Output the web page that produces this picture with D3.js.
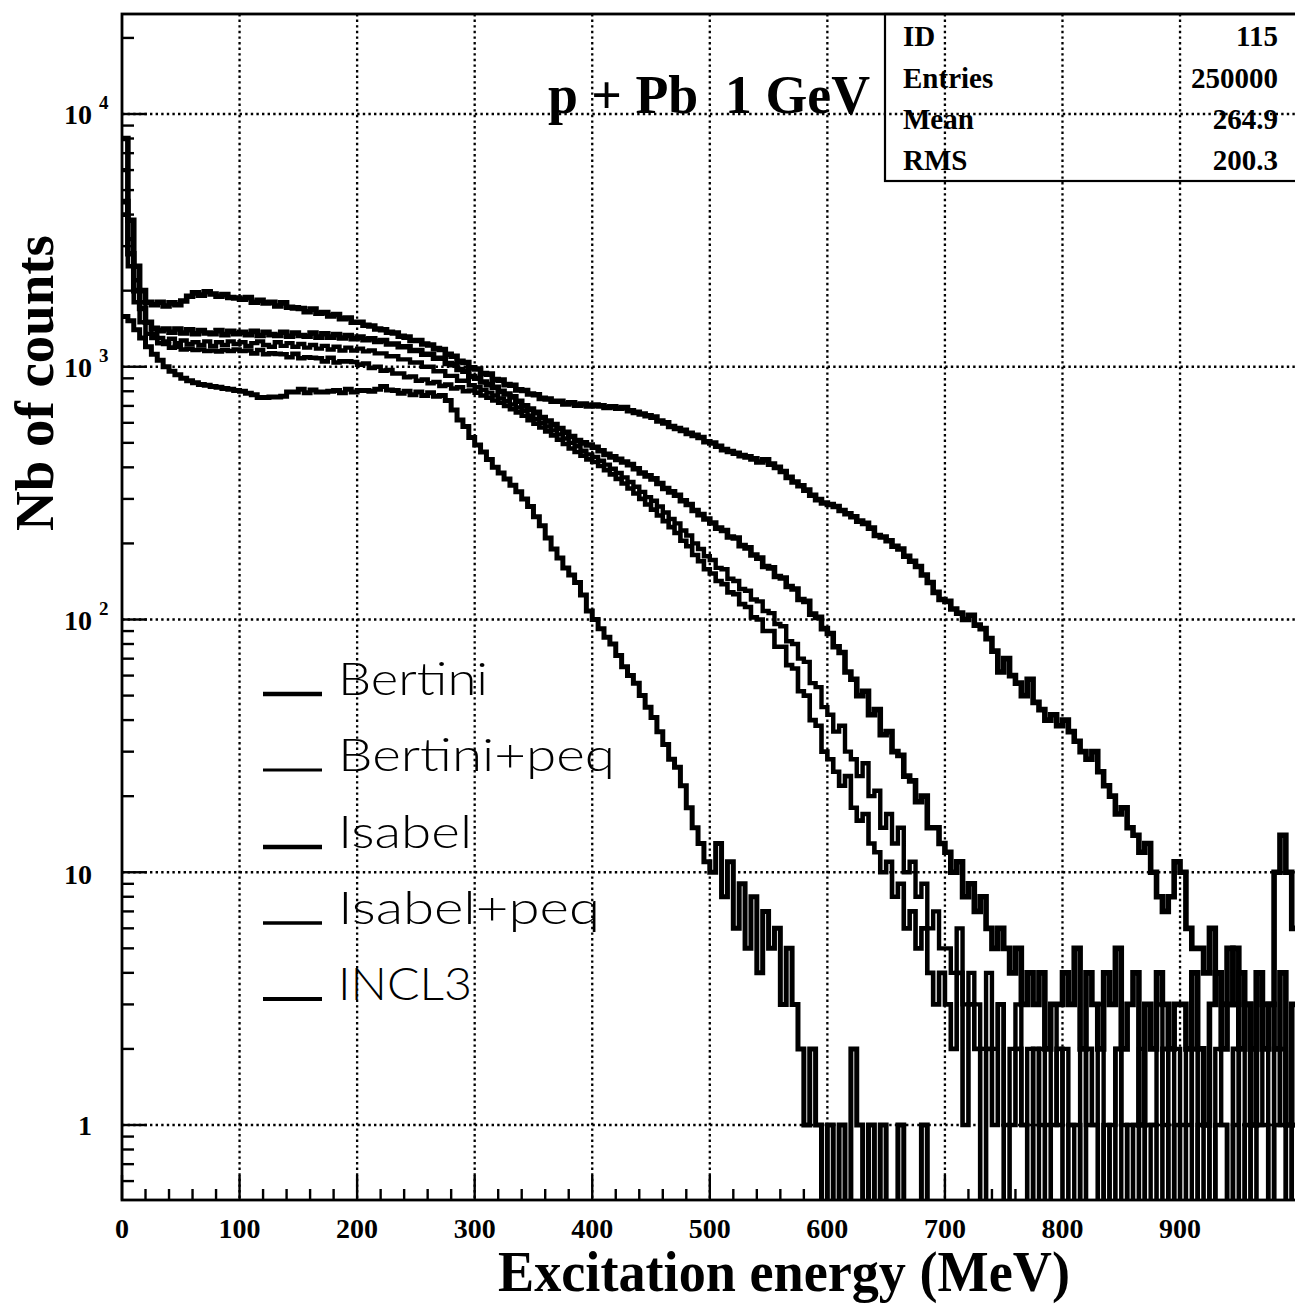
<!DOCTYPE html>
<html><head><meta charset="utf-8">
<script src="https://cdn.jsdelivr.net/npm/d3@7"></script>
<style>
html,body{margin:0;padding:0;background:#fff;}
svg{display:block;background:#fff;}
</style></head><body>
<svg id="chart" width="1295" height="1306"></svg>
<script>
// ---------------- DATA ----------------
const binWidth = 5; // MeV per histogram bin
const xDomain = [0, 1000];
const yDomain = [0.505, 24870];
const xTickLabels = [0, 100, 200, 300, 400, 500, 600, 700, 800, 900];
const yDecades = [0, 1, 2, 3, 4];
const seriesNames = ["Bertini", "Bertini+peq", "Isabel", "Isabel+peq", "INCL3"];
const titleText = "p + Pb  1 GeV";
const xTitle = "Excitation energy (MeV)";
const yTitle = "Nb of counts";
const statLabels = ["ID", "Entries", "Mean", "RMS"];
const statValues = ["115", "250000", "264.9", "200.3"];

const bertini = [
 8000,3800,2500,2000,1800,1760,1800,1740,1790,1760,1820,1900,1960,1920,1980,1940,1900,1930,1880,1870,
 1850,1880,1800,1830,1790,1800,1740,1790,1720,1710,1700,1650,1690,1630,1640,1590,1610,1550,1560,1500,
 1500,1460,1450,1410,1400,1370,1360,1320,1310,1270,1270,1230,1220,1180,1170,1120,1100,1050,1040,990,
 980,940,935,890,885,850,845,810,805,780,775,750,745,730,730,712,720,705,712,700,
 705,700,690,695,685,690,670,660,650,640,632,610,600,580,570,560,545,535,525,505,
 499,485,470,462,455,445,440,432,420,428,412,400,385,365,350,338,325,310,298,289,
 285,280,270,262,255,245,240,230,215,212,205,195,190,178,170,162,150,140,128,120,
 118,110,106,100,104,95,92,84,75,62,70,60,56,50,58,47,44,40,42,38,
 40,36,33,30,28,30,25,22,20,17,18,15,14,12,13,10,8,7,8,11,
 10,6,5,5,4,6,4,3,5,3,4,3,2,4,3,3,10,14,10,6
];
const bertiniPeq = [
 6000,3200,2200,1800,1500,1350,1300,1260,1290,1240,1270,1230,1250,1220,1260,1210,1250,1220,1260,1230,
 1250,1210,1240,1260,1220,1200,1250,1210,1240,1200,1230,1190,1220,1180,1210,1170,1200,1160,1190,1160,
 1180,1150,1160,1130,1130,1100,1100,1070,1070,1040,1040,1000,1000,960,960,920,920,880,880,845,
 830,810,790,770,750,730,710,690,670,640,620,600,580,560,540,520,500,485,465,450,
 440,425,410,395,380,365,350,335,320,305,295,280,265,250,240,225,215,200,190,178,
 172,160,158,145,142,132,130,120,118,108,106,96,94,82,80,70,68,56,54,45,
 42,36,38,30,28,24,27,20,21,15,17,13,15,10,11,8,9,6,7,5,
 5,4,6,3,4,3,2,4,2,3,1,2,3,1,2,0,2,1,3,1,
 2,1,0,2,1,1,3,0,1,2,0,1,1,2,0,1,3,1,0,2,
 1,2,0,1,1,0,2,1,0,1,2,0,1,1,3,0,1,2,0,1
];
const isabel = [
 4500,2800,2000,1700,1500,1420,1390,1410,1370,1410,1360,1400,1350,1390,1360,1350,1390,1340,1380,1350,
 1370,1340,1380,1330,1370,1340,1330,1370,1320,1360,1330,1320,1360,1310,1350,1310,1340,1300,1330,1290,
 1310,1280,1290,1260,1270,1230,1230,1200,1200,1160,1160,1120,1120,1080,1080,1030,1020,975,960,915,
 900,870,850,830,800,780,760,730,700,680,660,630,610,590,570,550,530,510,500,490,
 480,465,450,440,430,420,410,395,380,370,360,345,330,320,310,295,285,270,260,250,
 241,230,225,212,210,196,192,180,175,162,160,148,146,135,132,120,118,105,102,92,
 88,78,74,62,58,50,52,42,44,35,36,30,29,24,23,19,20,15,15,13,
 12,10,11,8,9,7,8,6,5,6,5,4,5,3,4,3,4,2,3,3,
 4,3,5,2,4,3,2,4,3,5,2,3,4,1,3,2,4,3,2,3,
 3,2,4,2,1,3,4,2,3,5,2,3,1,4,2,3,2,4,1,3
];
const isabelPeq = [
 4000,2500,1800,1500,1350,1300,1240,1230,1190,1200,1170,1180,1165,1170,1155,1160,1150,1165,1155,1170,
 1155,1160,1130,1165,1120,1130,1125,1120,1090,1125,1080,1090,1085,1080,1050,1085,1040,1050,1050,1045,
 1020,1030,990,1000,965,970,940,940,910,915,880,890,860,870,840,850,820,830,800,805,
 790,770,755,735,720,700,680,660,640,615,595,575,555,535,515,495,475,460,445,430,
 420,405,390,375,360,345,330,315,300,285,272,258,245,232,220,205,195,180,170,158,
 152,142,138,128,126,115,112,102,100,90,90,78,78,66,64,52,50,40,38,30,
 28,25,22,24,18,16,17,13,12,10,11,8,9,6,7,5,6,4,3,4,
 3,2,4,1,3,2,0,2,1,3,0,1,2,1,0,2,1,0,1,2,
 0,1,1,0,2,1,0,1,0,2,1,0,1,0,1,1,0,2,0,1,
 0,1,2,0,1,0,1,1,0,2,0,1,0,1,1,0,2,1,0,1
];
const incl3 = [
 1580,1520,1400,1300,1200,1120,1060,1000,960,930,900,880,865,850,845,835,830,820,815,805,
 800,785,775,755,755,760,760,765,795,795,815,790,810,795,795,800,805,790,815,795,
 805,805,800,815,835,810,805,785,800,775,795,770,790,765,770,735,675,615,580,525,
 490,460,430,400,380,360,340,320,300,280,255,235,210,190,175,160,150,140,125,108,
 100,92,85,80,72,65,60,56,50,45,41,36,32,28,26,22,18,15,13,11,
 10,13,8,11,6,9,5,8,4,7,5,6,3,5,3,2,1,2,1,0,
 1,0,1,0,2,1,0,1,0,1,0,0,1,0,0,0,1,0,0,0,
 0,0,0,0,0,0,0,0,0,0,0,0,0,0,0,0,0,0,0,0,
 0,0,0,0,0,0,0,0,0,0,0,0,0,0,0,0,0,0,0,0,
 0,0,0,0,0,0,0,0,0,0,0,0,0,0,0,0,0,0,0,0
];
const seriesValues = [bertini, bertiniPeq, isabel, isabelPeq, incl3];

// ---------------- LAYOUT ----------------
const L = 122, T = 14, B = 1200, R = 1297.6;
const serif = '"Liberation Serif","Times New Roman",Times,serif';
const curveWidths = [5.6, 4.4, 5.6, 4.6, 5.0];
const legendWidths = [4.6, 2.8, 4.6, 3.3, 4.0];

const svg = d3.select("#chart");
const x = d3.scaleLinear().domain(xDomain).range([L, R]);
const y = d3.scaleLog().domain(yDomain).range([B, T]);

svg.append("defs").append("clipPath").attr("id", "plotClip")
  .append("rect").attr("x", L).attr("y", T).attr("width", R - L).attr("height", B - T);

// grid
const grid = svg.append("g").attr("stroke", "#000").attr("stroke-width", 2.3)
  .attr("stroke-dasharray", "2.4,3.2").attr("fill", "none");
xTickLabels.filter(t => t > 0).forEach(t => {
  grid.append("line").attr("x1", x(t)).attr("x2", x(t)).attr("y1", T).attr("y2", B);
});
yDecades.forEach(d => {
  grid.append("line").attr("x1", L).attr("x2", R).attr("y1", y(Math.pow(10, d))).attr("y2", y(Math.pow(10, d)));
});

// histograms
const yv = v => v >= yDomain[0] ? y(v) : B + 10;
const line = d3.line().x(d => d[0]).y(d => d[1]).curve(d3.curveStepAfter);
const plot = svg.append("g").attr("clip-path", "url(#plotClip)");
seriesValues.forEach((vals, si) => {
  const pts = vals.map((v, i) => [x(i * binWidth), yv(v)]);
  pts.push([x(vals.length * binWidth), yv(vals[vals.length - 1])]);
  plot.append("path").attr("d", line(pts)).attr("fill", "none")
    .attr("stroke", "#000").attr("stroke-width", curveWidths[si])
    .attr("stroke-linejoin", "miter").attr("stroke-linecap", "square");
});

// ticks
const ticks = svg.append("g").attr("stroke", "#000").attr("stroke-width", 2.4);
for (let d = -1; d <= 4; d++) {
  for (let k = 1; k <= 9; k++) {
    const v = k * Math.pow(10, d);
    if (v < yDomain[0] || v > yDomain[1]) continue;
    const len = k === 1 ? 25 : 12;
    ticks.append("line").attr("x1", L).attr("x2", L + len).attr("y1", y(v)).attr("y2", y(v));
  }
}
for (let e = 0; e <= xDomain[1]; e += 20) {
  const len = e % 100 === 0 ? 25 : 11;
  ticks.append("line").attr("x1", x(e)).attr("x2", x(e)).attr("y1", B).attr("y2", B - len);
}

// frame
svg.append("rect").attr("x", L).attr("y", T).attr("width", R - L).attr("height", B - T)
  .attr("fill", "none").attr("stroke", "#000").attr("stroke-width", 2.8);

// x tick labels
svg.append("g").selectAll("text").data(xTickLabels).join("text")
  .attr("x", d => x(d)).attr("y", 1238).attr("text-anchor", "middle")
  .attr("font-family", serif).attr("font-weight", "bold").attr("font-size", 28)
  .text(d => d);

// y tick labels
const yl = svg.append("g").attr("font-family", serif).attr("font-weight", "bold");
yDecades.forEach(d => {
  const yy = y(Math.pow(10, d));
  if (d === 0) {
    yl.append("text").attr("x", 92).attr("y", yy + 10).attr("text-anchor", "end")
      .attr("font-size", 28).text("1");
  } else if (d === 1) {
    yl.append("text").attr("x", 92).attr("y", yy + 12).attr("text-anchor", "end")
      .attr("font-size", 28).text("10");
  } else {
    yl.append("text").attr("x", 92).attr("y", yy + 10).attr("text-anchor", "end")
      .attr("font-size", 28).text("10");
    yl.append("text").attr("x", 99).attr("y", yy - 5).attr("text-anchor", "start")
      .attr("font-size", 19).text(d);
  }
});

// axis titles
svg.append("text").attr("x", 784).attr("y", 1291).attr("text-anchor", "middle")
  .attr("font-family", serif).attr("font-weight", "bold").attr("font-size", 56)
  .attr("textLength", 572).attr("lengthAdjust", "spacingAndGlyphs").text(xTitle);
svg.append("text").attr("transform", "translate(53,383) rotate(-90)").attr("text-anchor", "middle")
  .attr("font-family", serif).attr("font-weight", "bold").attr("font-size", 55)
  .attr("textLength", 296).attr("lengthAdjust", "spacingAndGlyphs").text(yTitle);

// title
svg.append("text").attr("x", 548).attr("y", 113).attr("font-family", serif)
  .attr("font-weight", "bold").attr("font-size", 54).style("white-space", "pre")
  .attr("textLength", 322).attr("lengthAdjust", "spacingAndGlyphs").text(titleText);

// stats box
svg.append("rect").attr("x", 885).attr("y", T).attr("width", R - 885).attr("height", 167)
  .attr("fill", "none").attr("stroke", "#000").attr("stroke-width", 2.2);
const statY = [46, 88, 129, 170];
const st = svg.append("g").attr("font-family", serif).attr("font-weight", "bold").attr("font-size", 29);
statLabels.forEach((s, i) => {
  st.append("text").attr("x", 903).attr("y", statY[i]).text(s);
  st.append("text").attr("x", 1278).attr("y", statY[i]).attr("text-anchor", "end").text(statValues[i]);
});

// legend
const legY = [694, 770, 847, 923, 999];
const legTextW = [150, 277, 134, 262, 134];
const leg = svg.append("g");
seriesNames.forEach((n, i) => {
  leg.append("line").attr("x1", 263).attr("x2", 322).attr("y1", legY[i]).attr("y2", legY[i])
    .attr("stroke", "#000").attr("stroke-width", legendWidths[i]);
  leg.append("text").attr("x", 338).attr("y", legY[i] + 1)
    .attr("font-family", "Lato, 'DejaVu Sans', sans-serif").attr("font-weight", 300)
    .attr("font-size", 46).attr("textLength", legTextW[i]).attr("lengthAdjust", "spacingAndGlyphs")
    .text(n);
});
</script>
</body></html>
